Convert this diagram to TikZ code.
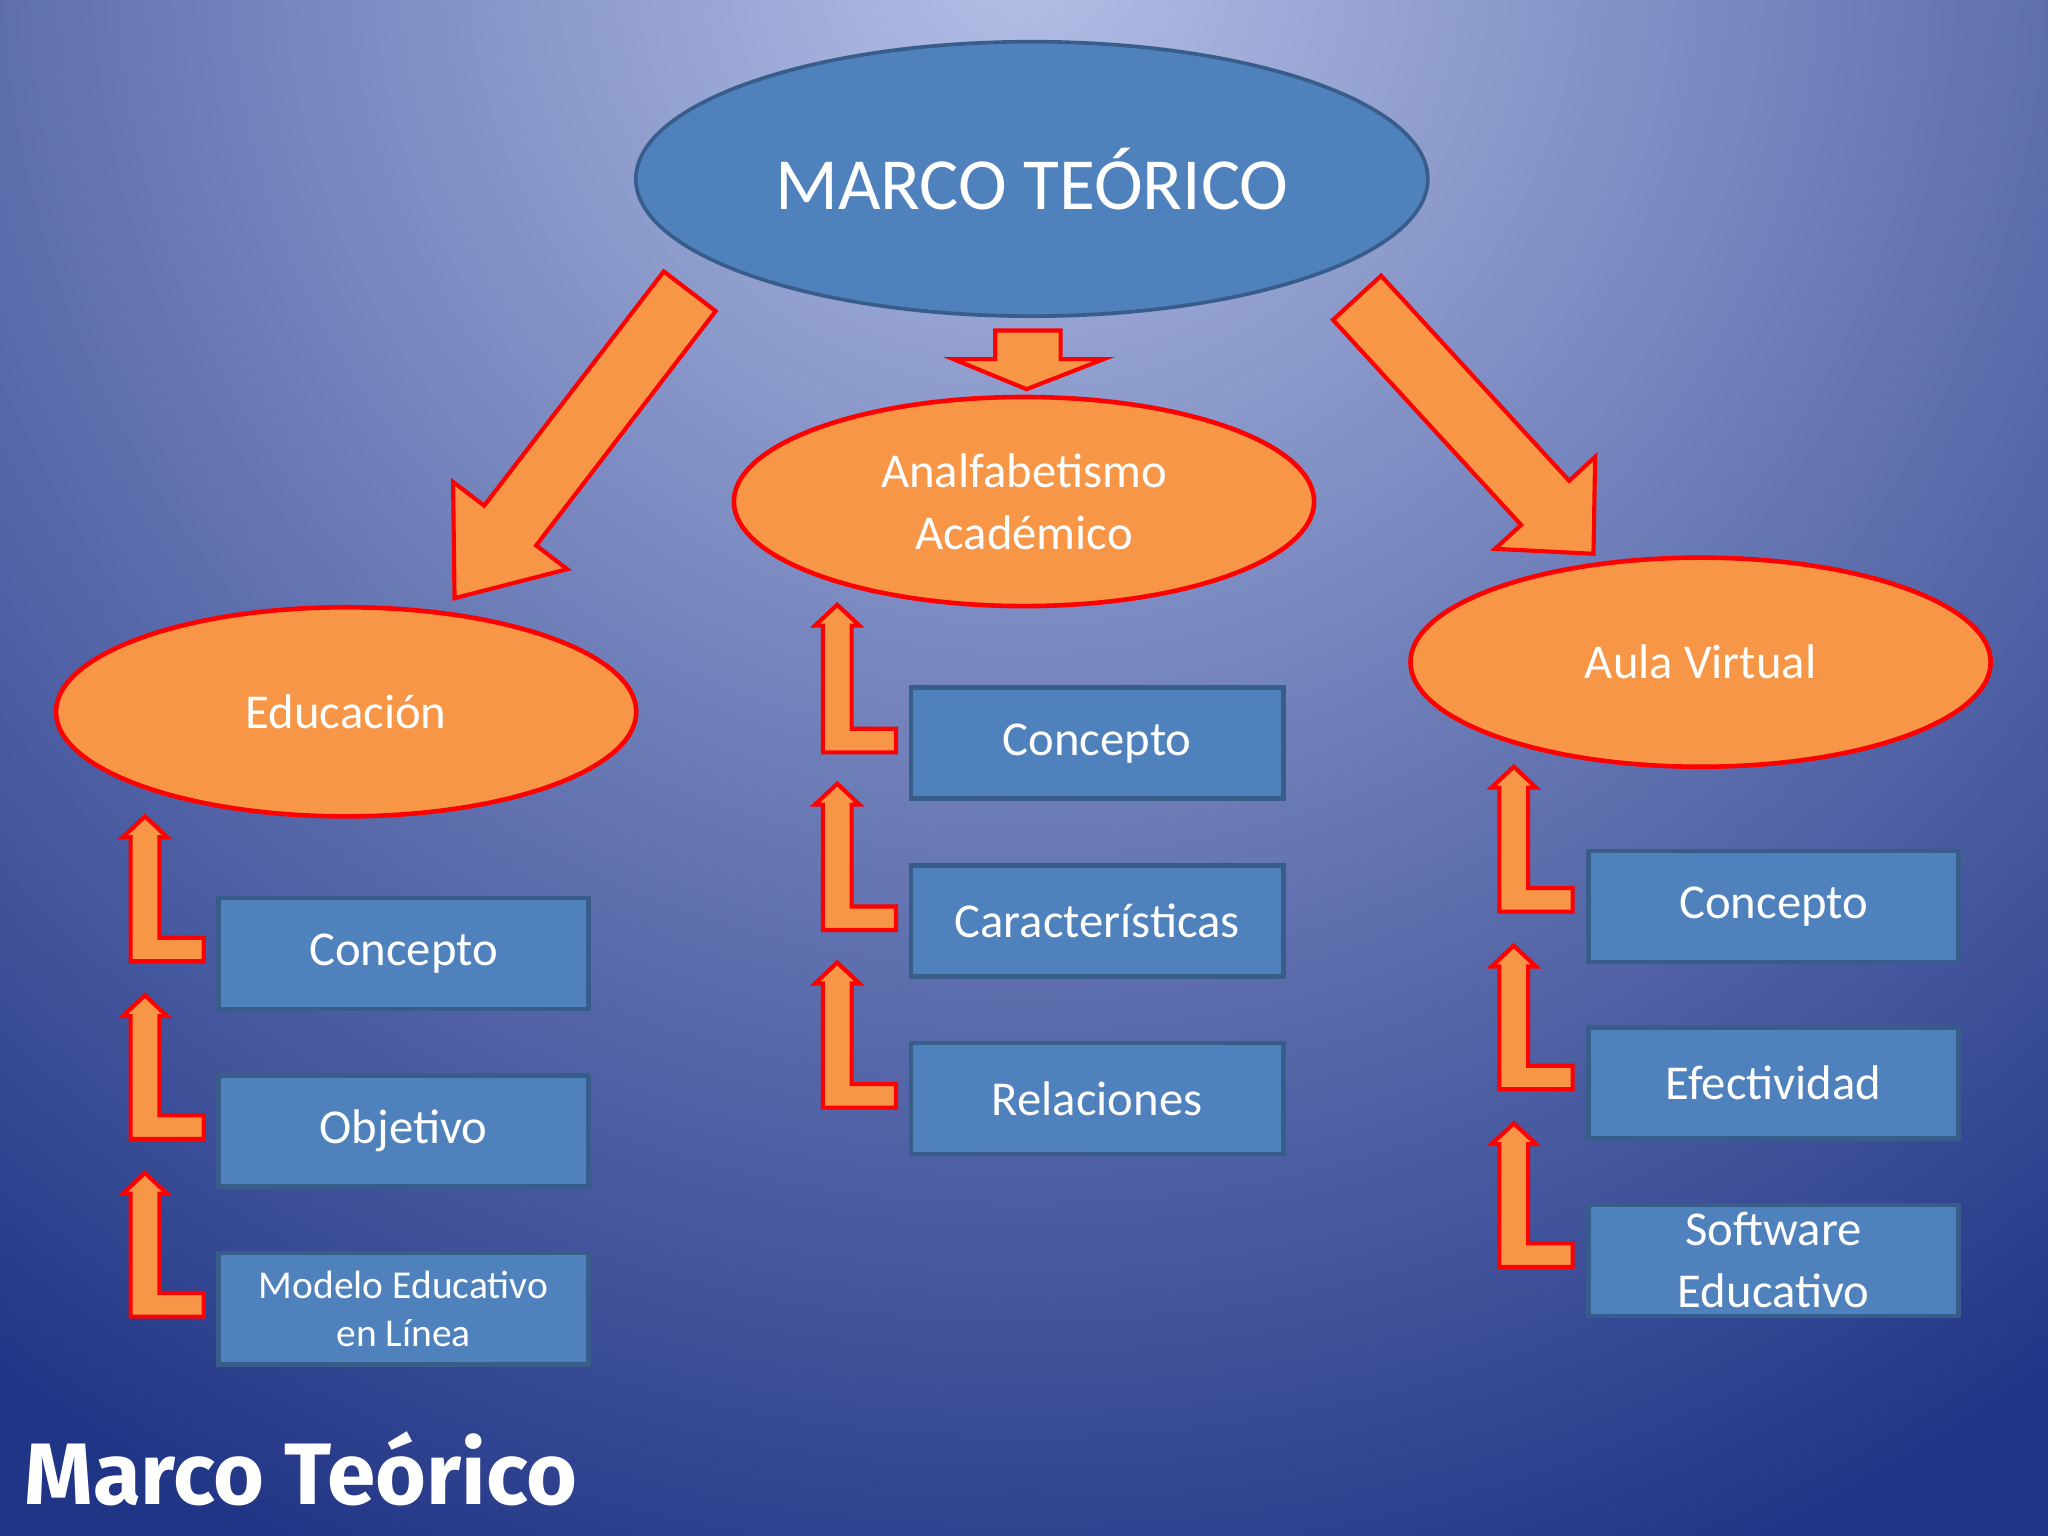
\documentclass[tikz,border=0pt]{standalone}
\usepackage{fontspec}
\setmainfont{Carlito}
\newfontfamily\titlefont{Fira Sans}
\usetikzlibrary{shapes.geometric}
\definecolor{bgin}{HTML}{B4C0E6}
\definecolor{bgout}{HTML}{213586}
\definecolor{blu}{HTML}{4F81BD}
\definecolor{bluline}{HTML}{385D8A}
\definecolor{org}{HTML}{F79646}
\tikzset{
 mainell/.style={ellipse,fill=blu,draw=bluline,line width=0.8pt,text=white,inner sep=0},
 orgell/.style={ellipse,fill=org,draw=red,line width=1pt,text=white,font=\fontsize{10.6}{13.5}\selectfont,align=center,inner sep=0,minimum width=4.44cm,minimum height=1.6cm},
 bbox/.style={rectangle,fill=blu,draw=bluline,line width=1pt,text=white,font=\fontsize{10.6}{13.5}\selectfont,align=center,inner sep=0,minimum width=2.83cm,minimum height=0.85cm},
 arr/.style={fill=org,draw=red,line width=0.9pt,line join=miter},
}
\newcommand{\bentarrow}[3]{% x0, tip y, bottom y
 \draw[arr] (#1,#3) -- ++(56,0) -- ++(0,-18) -- (#1+22,#3-18) -- (#1+22,#2+16) -- (#1+28,#2+16) -- (#1+11,#2) -- (#1-6,#2+16) -- (#1,#2+16) -- cycle;}
\begin{document}
\begin{tikzpicture}[x=0.01cm,y=-0.01cm]
\useasboundingbox (0,0) rectangle (1568,1176);
\begin{scope}
\clip (0,0) rectangle (1568,1176);
\fill[bgout] (0,0) rectangle (1568,1176);
\shade[inner color=bgin,outer color=bgout] (784,-40) circle (1350);
\end{scope}
% nodes
\node[mainell,minimum width=6.06cm,minimum height=2.1cm,font=\fontsize{16}{20}\selectfont] (main) at (790,137) {MARCO TEÓRICO};
\node[orgell] (ana) at (784,384) {Analfabetismo\\Académico};
\node[orgell] (edu) at (265,545) {Educación};
\node[orgell] (aula) at (1302,507) {Aula Virtual};
% boxes
\node[bbox] (e1) at (309,730) {Concepto};
\node[bbox] (e2) at (309,866) {Objetivo};
\node[bbox,font=\fontsize{8.6}{10.5}\selectfont] (e3) at (309,1002) {Modelo Educativo\\en Línea};
\node[bbox,minimum width=2.85cm] (a1) at (840,569) {Concepto};
\node[bbox,minimum width=2.85cm] (a2) at (840,705) {Características};
\node[bbox,minimum width=2.85cm] (a3) at (840,841) {Relaciones};
\node[bbox] (v1) at (1358,694) {Concepto};
\node[bbox] (v2) at (1358,829) {Efectividad};
\node[bbox] (v3) at (1358,965) {Software\\Educativo};
% big arrows
\draw[arr] (547.9,238.2) -- (410.5,417.6) -- (434.3,435.8) -- (348,458) -- (346.9,369.0) -- (370.7,387.2) -- (508.2,207.8) -- cycle;
\draw[arr] (1057.4,211.1) -- (1201.4,368.1) -- (1221.3,349.8) -- (1220,424) -- (1144.7,420.2) -- (1164.6,401.9) -- (1020.6,244.9) -- cycle;
\draw[arr] (762,253) -- (812,253) -- (812,275) -- (845,275) -- (786,298) -- (730,275) -- (762,275) -- cycle;
% bent arrows
\bentarrow{100}{625}{736}
\bentarrow{100}{762}{872}
\bentarrow{100}{898}{1008}
\bentarrow{630}{463}{576}
\bentarrow{630}{600}{712}
\bentarrow{630}{737}{848}
\bentarrow{1148}{587}{698}
\bentarrow{1148}{724}{834}
\bentarrow{1148}{860}{970}
\node[anchor=base west,text=white,font=\titlefont\bfseries\fontsize{19}{22}\selectfont,inner sep=0] (title) at (18,1152) {Marco Teórico};
\end{tikzpicture}
\end{document}
